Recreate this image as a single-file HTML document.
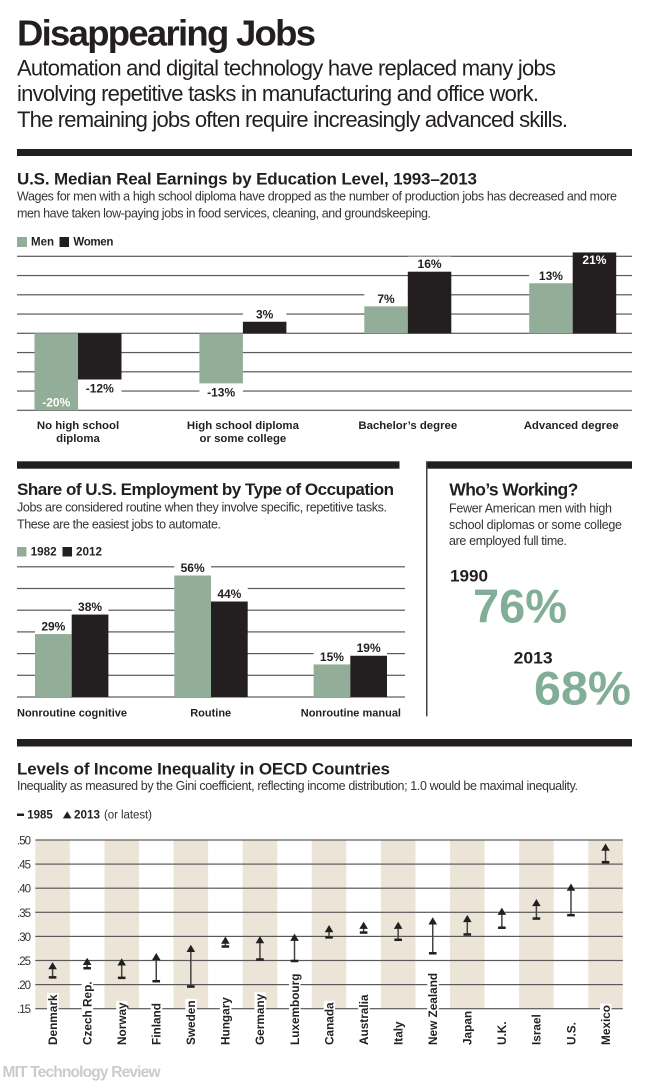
<!DOCTYPE html>
<html lang="en">
<head>
<meta charset="utf-8">
<title>Disappearing Jobs</title>
<style>
html,body{margin:0;padding:0;background:#fff;}
svg{display:block;}
text{font-family:"Liberation Sans",sans-serif;fill:#231f20;}
.b{font-weight:bold;}
.sub{fill:#333;}
</style>
</head>
<body>
<svg id="page" xmlns="http://www.w3.org/2000/svg" width="650" height="1081" viewBox="0 0 650 1081">
<rect x="0" y="0" width="650" height="1081" fill="#fff"/>

<text class="b" x="17" y="45.5" font-size="36.5" textLength="299">Disappearing Jobs</text>
<text x="17" y="75.5" font-size="22" textLength="539">Automation and digital technology have replaced many jobs</text>
<text x="17" y="101" font-size="22" textLength="522">involving repetitive tasks in manufacturing and office work.</text>
<text x="17" y="127" font-size="22" textLength="551">The remaining jobs often require increasingly advanced skills.</text>
<rect x="17" y="149" width="615" height="7" fill="#231f20"/>

<text class="b" x="17" y="184.3" font-size="17" textLength="460">U.S. Median Real Earnings by Education Level, 1993–2013</text>
<text class="sub" x="17" y="200.5" font-size="12.5" textLength="600">Wages for men with a high school diploma have dropped as the number of production jobs has decreased and more</text>
<text class="sub" x="17" y="217.5" font-size="12.5" textLength="414">men have taken low-paying jobs in food services, cleaning, and groundskeeping.</text>
<rect x="17" y="237" width="10" height="10" fill="#93ae98"/>
<text class="b" x="31" y="245.7" font-size="11.5" textLength="23">Men</text>
<rect x="59.5" y="237" width="9.5" height="10" fill="#231f20"/>
<text class="b" x="73.4" y="245.7" font-size="11.5" textLength="40">Women</text>
<g id="chart1"></g>

<rect x="17" y="461.3" width="382.5" height="7.4" fill="#231f20"/>
<text class="b" x="17" y="495" font-size="17" textLength="377">Share of U.S. Employment by Type of Occupation</text>
<text class="sub" x="17" y="511.7" font-size="12.5" textLength="370">Jobs are considered routine when they involve specific, repetitive tasks.</text>
<text class="sub" x="17" y="528.3" font-size="12.5" textLength="204">These are the easiest jobs to automate.</text>
<rect x="17" y="547" width="9.5" height="9.5" fill="#93ae98"/>
<text class="b" x="30.7" y="555.7" font-size="11.5" textLength="26" lengthAdjust="spacingAndGlyphs">1982</text>
<rect x="62.5" y="547" width="9.5" height="9.5" fill="#231f20"/>
<text class="b" x="76" y="555.7" font-size="11.5" textLength="26" lengthAdjust="spacingAndGlyphs">2012</text>
<g id="chart2"></g>

<rect x="427" y="461.3" width="205" height="7.4" fill="#231f20"/>
<rect x="426" y="461.3" width="1.5" height="255" fill="#444"/>
<text class="b" x="449.3" y="495.7" font-size="17.5" textLength="129">Who’s Working?</text>
<text class="sub" x="449" y="512.3" font-size="12.5" textLength="163">Fewer American men with high</text>
<text class="sub" x="449" y="529" font-size="12.5" textLength="173">school diplomas or some college</text>
<text class="sub" x="449" y="545" font-size="12.5" textLength="118">are employed full time.</text>
<text class="b" x="450" y="581.3" font-size="17" textLength="38" lengthAdjust="spacingAndGlyphs">1990</text>
<text class="b" x="473" y="622.3" font-size="47" textLength="94" lengthAdjust="spacingAndGlyphs" style="fill:#82ae97">76%</text>
<text class="b" x="513.7" y="663.3" font-size="17" textLength="39" lengthAdjust="spacingAndGlyphs">2013</text>
<text class="b" x="534" y="704.3" font-size="47" textLength="97" lengthAdjust="spacingAndGlyphs" style="fill:#82ae97">68%</text>

<rect x="17" y="739" width="615" height="7.5" fill="#231f20"/>
<text class="b" x="17" y="774.3" font-size="17" textLength="373">Levels of Income Inequality in OECD Countries</text>
<text class="sub" x="17" y="790" font-size="12.5" textLength="561">Inequality as measured by the Gini coefficient, reflecting income distribution; 1.0 would be maximal inequality.</text>
<rect x="17" y="813.5" width="7" height="2.5" fill="#231f20"/>
<text class="b" x="27.3" y="818.3" font-size="11.5" textLength="25.5" lengthAdjust="spacingAndGlyphs">1985</text>
<polygon points="67.2,811.2 71.5,818.4 62.9,818.4" fill="#231f20"/>
<text class="b" x="74" y="818.3" font-size="11.5" textLength="26" lengthAdjust="spacingAndGlyphs">2013</text>
<text class="sub" x="104" y="818.3" font-size="11.5" textLength="48">(or latest)</text>
<g id="chart3"></g>

<text class="b" x="2.5" y="1077" font-size="15.5" textLength="158" style="fill:#cbcbcb">MIT Technology Review</text>
</svg>

<script>
// Chart 1 data
var eduCategories = [["No high school", "diploma"], ["High school diploma", "or some college"], ["Bachelor’s degree"], ["Advanced degree"]];
var eduMen = [-20, -13, 7, 13];
var eduWomen = [-12, 3, 16, 21];
var eduTicks = [20, 15, 10, 5, 0, -5, -10, -15, -20];

// Chart 2 data
var occCategories = ["Nonroutine cognitive", "Routine", "Nonroutine manual"];
var occ1982 = [29, 56, 15];
var occ2012 = [38, 44, 19];
var occTicks = [60, 50, 40, 30, 20, 10, 0];

// Chart 3 data
var countries = ["Denmark", "Czech Rep.", "Norway", "Finland", "Sweden", "Hungary", "Germany", "Luxembourg", "Canada", "Australia", "Italy", "New Zealand", "Japan", "U.K.", "Israel", "U.S.", "Mexico"];
var gini1985 = [0.215, 0.234, 0.214, 0.207, 0.196, 0.279, 0.252, 0.249, 0.298, 0.308, 0.293, 0.265, 0.304, 0.318, 0.337, 0.344, 0.454];
var gini2013 = [0.239, 0.248, 0.247, 0.258, 0.275, 0.292, 0.293, 0.298, 0.316, 0.323, 0.323, 0.332, 0.337, 0.352, 0.370, 0.402, 0.485];
var giniTicks = [0.50, 0.45, 0.40, 0.35, 0.30, 0.25, 0.20, 0.15];

var NS = "http://www.w3.org/2000/svg";
var GREEN = "#93ae98", BLACK = "#231f20", GRID = "#5a5a5a";

function mk(parent, tag, attrs, txt) {
  var el = document.createElementNS(NS, tag);
  for (var k in attrs) { el.setAttribute(k, attrs[k]); }
  if (txt !== undefined) { el.textContent = txt; }
  parent.appendChild(el);
  return el;
}

/* ---------- Chart 1: earnings ---------- */
(function () {
  var g = document.getElementById("chart1");
  var y = function (v) { return 333.3 - v * 3.85; };
  var groupX = function (i) { return 78 + i * 164.9; };
  var barW = 43.5;

  eduTicks.forEach(function (t) {
    var line = mk(g, "rect", { x: 17, y: y(t) - 0.6, width: 615, height: 1.2, fill: GRID });
    
    
  });

  function drawBar(v, left, color, seriesName, i) {
    var top = Math.min(y(v), y(0));
    var h = Math.abs(y(v) - y(0));
    var inside = Math.abs(v) >= 20;
    if (!inside) {
      var maskY = v >= 0 ? top - 15 : top + h;
      var mask = mk(g, "rect", { x: left, y: maskY, width: barW, height: 15, fill: "#fff" });
      
      
    }
    var bar = mk(g, "rect", { x: left, y: top, width: barW, height: h, fill: color });
    
    

    var baseY;
    if (inside) { baseY = v >= 0 ? top + 11.5 : top + h - 4; }
    else { baseY = v >= 0 ? top - 3.5 : top + h + 13; }
    var label = mk(g, "text", {
      x: left + barW / 2, y: baseY, "text-anchor": "middle", "font-size": 12,
      "font-weight": "bold", style: inside ? "fill:#fff" : "fill:#231f20"
    }, v + "%");
    
    
  }

  eduCategories.forEach(function (lines, i) {
    var cx = groupX(i);
    drawBar(eduMen[i], cx - barW, GREEN, 'men', i);
    drawBar(eduWomen[i], cx, BLACK, 'women', i);
    lines.forEach(function (s, j) {
      var cat = mk(g, "text", {
        x: i === 3 ? cx - 1.5 : cx, y: 429 + j * 13, "text-anchor": "middle", "font-size": 11.4, "font-weight": "bold"
      }, s);
      
      
    });
  });
})();

/* ---------- Chart 2: employment ---------- */
(function () {
  var g = document.getElementById("chart2");
  var y = function (v) { return 697 - v * 2.17; };
  var groupX = function (i) { return 71.7 + i * 139.3; };
  var barW = 36.7;
  var labelAnchors = ["start", "middle", "end"];
  var labelXs = [17, 210.7, 401];

  occTicks.forEach(function (t) {
    var line = mk(g, "rect", { x: 17, y: y(t) - 0.6, width: 388, height: 1.2, fill: GRID });
    
    
  });

  function drawBar(v, left, color, seriesName, i) {
    var top = y(v);
    var mask = mk(g, "rect", { x: left, y: top - 15, width: barW, height: 15, fill: "#fff" });
    
    
    var bar = mk(g, "rect", { x: left, y: top, width: barW, height: y(0) - top, fill: color });
    
    
    var label = mk(g, "text", {
      x: left + barW / 2, y: top - 3.7, "text-anchor": "middle", "font-size": 12, "font-weight": "bold"
    }, v + "%");
    
    
  }

  occCategories.forEach(function (name, i) {
    var cx = groupX(i);
    drawBar(occ1982[i], cx - barW, GREEN, '1982', i);
    drawBar(occ2012[i], cx, BLACK, '2012', i);
    var cat = mk(g, "text", {
      x: labelXs[i], y: 716.3, "text-anchor": labelAnchors[i], "font-size": 11, "font-weight": "bold"
    }, name);
    
    
  });
})();

/* ---------- Chart 3: Gini ---------- */
(function () {
  var g = document.getElementById("chart3");
  var y = function (v) { return 840 + (0.5 - v) * 482; };
  var bandStep = 34.56;
  var bandX = function (i) { return 35.3 + i * bandStep; };

  countries.forEach(function (name, i) {
    if (i % 2 === 0) {
      var band = mk(g, "rect", { x: bandX(i), y: y(0.5), width: bandStep, height: y(0.15) - y(0.5), fill: "#ece4d7" });
      
      
    }
  });

  giniTicks.forEach(function (t) {
    var line = mk(g, "rect", { x: 35.3, y: y(t) - 0.6, width: 587.5, height: 1.2, fill: GRID });
    
    
    var lab = mk(g, "text", { x: 17, y: y(t) + 4.5, "font-size": 11.5, textLength: 14, style: "fill:#333" }, t.toFixed(2).slice(1));
    
    
  });

  countries.forEach(function (name, i) {
    var cx = bandX(i) + bandStep / 2;
    var label = mk(g, "text", {
      transform: "translate(" + (cx + 4.3) + ",1045) rotate(-90)", "font-size": 11.8, "font-weight": "bold"
    }, name);
    
    
    var len = label.getComputedTextLength();
    var top = 1045 - len;
    if (top < 1010) {
      var mask = mk(g, "rect", { x: cx - 5.5, y: top - 1.5, width: 11.5, height: 1010 - top + 1.5, fill: "#fff" });
      
      
      g.insertBefore(mask, label);
    }

    var yOld = y(gini1985[i]);
    var yNew = y(gini2013[i]);
    var stem = mk(g, "line", { x1: cx, x2: cx, y1: yOld, y2: yNew, stroke: "#444", "stroke-width": 1.5 });
    
    
    var dash = mk(g, "rect", { x: cx - 3.8, y: yOld - 1.25, width: 7.6, height: 2.5, fill: BLACK });
    
    
    var tri = mk(g, "polygon", {
      points: cx + "," + (yNew - 3.7) + " " + (cx + 4.3) + "," + (yNew + 3.5) + " " + (cx - 4.3) + "," + (yNew + 3.5),
      fill: BLACK
    });
    
    
  });
})();
</script>
</body>
</html>
